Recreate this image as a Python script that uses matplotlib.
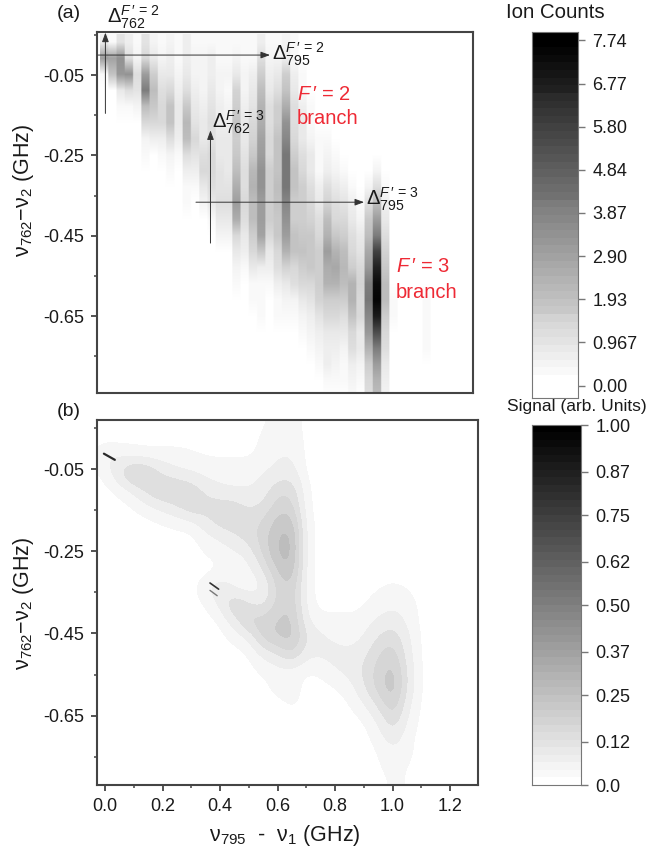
import numpy as np
import matplotlib
matplotlib.use("Agg")
import matplotlib.pyplot as plt
from matplotlib.colors import BoundaryNorm, ListedColormap
from matplotlib.ticker import FixedLocator

plt.rcParams['font.family'] = ['Liberation Sans', 'DejaVu Sans']
plt.rcParams['mathtext.fontset'] = 'custom'
plt.rcParams['mathtext.rm'] = 'Liberation Sans'
plt.rcParams['mathtext.it'] = 'Liberation Sans:italic'
plt.rcParams['mathtext.bf'] = 'Liberation Sans:bold'

W, H = 651, 858

# ---------- data ----------
y_ticks_major = [-0.05, -0.25, -0.45, -0.65]
y_ticks_minor = [0.05, -0.15, -0.35, -0.55, -0.75]
x_ticks_major = [0.0, 0.2, 0.4, 0.6, 0.8, 1.0, 1.2]
x_ticks_minor = [0.1, 0.3, 0.5, 0.7, 0.9, 1.1]
cbar_a_ticks = [0.00, 0.967, 1.93, 2.90, 3.87, 4.84, 5.80, 6.77, 7.74]
cbar_a_labels = ['0.00', '0.967', '1.93', '2.90', '3.87', '4.84', '5.80', '6.77', '7.74']
cbar_b_ticks = [0.0, 0.12, 0.25, 0.37, 0.50, 0.62, 0.75, 0.87, 1.00]
cbar_b_labels = ['0.0', '0.12', '0.25', '0.37', '0.50', '0.62', '0.75', '0.87', '1.00']

# panel (a): ion counts per laser scan column, rows from +0.03 GHz downward in 0.04 GHz steps
ion_columns = [
    [.5, 3.0, .2],
    [.3, 2.8, 1.8, .1],
    [.9, 3.4, 3.2, .7, .2],
    [.5, 1.0, 3.4, 1.1, .3],
    [.2, .4, 1.0, .9, .4, .1],
    [.9, 1.3, 3.0, 4.0, 2.0, 1.2, .4, .2],
    [.4, .8, 1.6, 2.1, 1.7, 1.2, .6, .1],
    [.2, .4, .7, 1.0, 1.3, 1.2, .6, .2],
    [.4, .5, .8, 1.2, 1.8, 1.8, 1.0, .4, .2],
    [.2, .3, .4, .6, .8, .8, .5, .2, .1],
    [.5, .6, .8, 1.1, 1.7, 2.2, 2.1, 1.0, .5, .3, .2],
    [.2, .4, .4, .5, .7, .9, 1.2, .9, .5, .2],
    [.2, .4, .4, .4, .6, .7, .8, 1.0, 1.3, .8, .4, .1],
    [.3, .6, .6, .7, .9, 1.1, .9, 1.2, 1.3, 1.0, .7, .3, .1],
    [.2, .3, .4, .4, .5, .6, .7, .7, .9, .9, 1.1, .7, .4, .1],
    [.2, .3, .4, .3, .4, .5, .7, .7, .8, .9, 1.1, .8, .4, .1],
    [.3, .4, .8, 1.4, 1.6, 1.8, 1.5, 1.7, 2.0, 2.5, 3.1, 2.6, 1.2, .7, .4, .2],
    [.2, .3, .4, .4, .5, .7, .7, .9, 1.1, 1.1, 1.3, 1.1, .8, .5, .2],
    [.2, .3, .5, .7, .9, 1.2, 1.4, 1.7, 2.2, 2.4, 2.1, 2.0, 1.6, 1.2, .7, .3, .2, .1],
    [.6, 1.1, 1.6, 2.1, 2.4, 2.5, 2.8, 3.1, 3.4, 3.3, 3.1, 3.1, 2.8, 1.7, .6, .3, .3, .2, .1, .1],
    [.2, .4, .6, .8, 1.0, 1.1, 1.3, 1.3, 1.5, 1.5, 1.5, 1.5, 1.2, .8, .5, .3, .1],
    [.2, .4, .7, 1.1, 1.5, 1.6, 1.9, 1.9, 1.9, 2.1, 1.9, 1.7, 1.7, 1.3, 1.0, .5, .3, .2],
    [.4, .5, 1.6, 1.9, 2.6, 3.3, 3.6, 4.1, 4.1, 4.1, 3.7, 3.3, 3.1, 2.4, 1.4, .8, .4, .3, .1],
    [.2, .3, .5, .7, 1.0, 1.1, 1.3, 1.6, 1.9, 1.9, 1.6, 1.6, 1.8, 1.8, 1.3, 1.0, .4, .3],
    [0, .1, .2, .3, .5, .7, .8, 1.1, 1.3, 1.5, 1.6, 1.6, 1.7, 1.8, 1.6, 1.3, .8, .4, .3, .1],
    [0, 0, 0, .1, .2, .3, .4, .7, .8, 1.0, 1.2, 1.4, 1.7, 1.7, 1.7, 1.3, .9, .5, .4, .3],
    [0, 0, 0, 0, 0, .1, .2, .3, .3, .6, .7, 1.0, 1.2, 1.5, 1.6, 1.6, 1.4, .9, .5, .4, .2],
    [0, 0, 0, 0, 0, 0, .3, .4, .6, 1.0, 1.4, 2.0, 2.4, 3.0, 2.6, 2.3, 1.6, 1.2, .8, .5, .5, .3],
    [0, 0, 0, 0, 0, 0, 0, .3, .4, .7, 1.0, 1.3, 1.7, 2.4, 2.7, 2.4, 1.6, 1.2, .8, .6, .4, .3],
    [0, 0, 0, 0, 0, 0, 0, .1, .3, .6, .9, 1.3, 1.6, 2.0, 2.2, 2.1, 1.5, 1.1, .8, .4, .3, .2],
    [0, 0, 0, 0, 0, 0, 0, 0, .1, .3, .5, .7, 1.0, 1.3, 1.6, 2.4, 2.4, 1.8, 1.3, 1.0, .5, .4, .2],
    [0, 0, 0, 0, 0, 0, 0, 0, 0, .1, .3, .4, .7, .9, 1.2, 1.4, 1.3, 1.3, .8, .7, .4, .3, .1],
    [0, 0, 0, 0, 0, 0, 0, 0, .1, .4, 1.0, 1.7, 2.1, 2.7, 3.2, 4.0, 4.2, 3.6, 3.2, 2.3, 1.5, 1.2, 1.0],
    [0, 0, 0, 0, 0, 0, 0, .1, .4, 1.0, 2.0, 3.0, 4.0, 5.8, 6.8, 7.5, 7.6, 7.0, 5.5, 4.0, 3.0, 2.3, 2.0],
    [0, 0, 0, 0, 0, 0, 0, 0, 0, .2, .5, .8, 1.0, 1.4, 1.7, 2.0, 2.0, 1.6, 1.3, 1.0, .8, .6, .4],
    [0, 0, 0, 0, 0, 0, 0, 0, 0, 0, 0, 0, 0, 0, .1, .1, .2, .2, .1, .1],
    [],
    [],
    [],
    [0, 0, 0, 0, 0, 0, 0, 0, 0, 0, 0, 0, 0, 0, 0, 0, .2, .3, .3, .2, .1],
    [0, 0, 0, 0, 0, 0, 0, 0, 0, 0, 0, 0, 0, 0, 0, 0, 0, .1, .1],
]
ion_col_step = 0.0287      # GHz
ion_row_top = 0.05
ion_row_step = 0.04

# panel (b): simulated signal (in percent); columns x=-0.05..1.05 step 0.05, rows y=0.06..-0.82 step -0.04
sig_rows = [
    [0, 0, 0, 0, 0, 0, 0, 0, 0, 0, 0, 0, 1, 2, 3],
    [0, 0, 0, 0, 0, 0, 0, 0, 0, 0, 0, 0, 2, 3, 4],
    [0, 6, 5, 4, 3, 3, 3, 2, 1, 1, 1, 1, 2, 5, 5],
    [0, 2, 10, 20, 17, 9, 6, 5, 4, 3, 3, 3, 5, 7, 8],
    [0, 0, 2, 6, 13, 17, 17, 14, 8, 6, 5, 5, 7, 14, 14, 1],
    [0, 0, 0, 1, 4, 7, 10, 16, 13, 13, 13, 9, 11, 18, 18, 1],
    [0, 0, 0, 0, 0, 1, 2, 3, 8, 13, 13, 13, 16, 23, 24, 2],
    [0, 0, 0, 0, 0, 0, 0, 0, 3, 5, 9, 12, 18, 26, 28, 2],
    [0, 0, 0, 0, 0, 0, 0, 0, 1, 2, 3, 6, 16, 26, 28, 2],
    [0, 0, 0, 0, 0, 0, 0, 0, 0, 1, 2, 3, 9, 21, 25, 2],
    [0, 0, 0, 0, 0, 0, 0, 0, 4, 10, 4, 2, 4, 17, 20, 2, 0, 0, 0, 0, 1, 2, 1],
    [0, 0, 0, 0, 0, 0, 0, 0, 1, 6, 17, 11, 8, 18, 20, 3, 0, 0, 0, 1, 3, 4, 3],
    [0, 0, 0, 0, 0, 0, 0, 0, 0, 1, 8, 18, 18, 21, 22, 5, 2, 3, 2, 3, 6, 8, 4],
    [0, 0, 0, 0, 0, 0, 0, 0, 0, 0, 2, 5, 18, 21, 23, 10, 6, 4, 3, 5, 11, 14, 6],
    [0, 0, 0, 0, 0, 0, 0, 0, 0, 0, 0, 1, 6, 10, 16, 6, 6, 7, 6, 9, 15, 19, 7],
    [0, 0, 0, 0, 0, 0, 0, 0, 0, 0, 0, 0, 2, 3, 3, 1, 2, 5, 7, 11, 18, 23, 9],
    [0, 0, 0, 0, 0, 0, 0, 0, 0, 0, 0, 0, 0, 3, 3, 0, 0, 1, 3, 10, 18, 25, 9],
    [0, 0, 0, 0, 0, 0, 0, 0, 0, 0, 0, 0, 0, 0, 2, 0, 0, 0, 1, 5, 12, 21, 6],
    [0, 0, 0, 0, 0, 0, 0, 0, 0, 0, 0, 0, 0, 0, 0, 0, 0, 0, 0, 1, 6, 15, 4],
    [0, 0, 0, 0, 0, 0, 0, 0, 0, 0, 0, 0, 0, 0, 0, 0, 0, 0, 0, 0, 3, 9, 2],
    [0, 0, 0, 0, 0, 0, 0, 0, 0, 0, 0, 0, 0, 0, 0, 0, 0, 0, 0, 0, 1, 4, 2],
    [0, 0, 0, 0, 0, 0, 0, 0, 0, 0, 0, 0, 0, 0, 0, 0, 0, 0, 0, 0, 1, 2, 1],
    [0, 0, 0, 0, 0, 0, 0, 0, 0, 0, 0, 0, 0, 0, 0, 0, 0, 0, 0, 0, 0, 2, 1],
]
# contour bands seen in (b): lower band edges and their grey levels
sig_bands = [-1, 0.012, 0.05, 0.10, 0.15, 0.20, 0.25, 0.30, 0.40, 0.60, 1.01]
sig_greys = ['#ffffff', '#f6f6f6', '#ededed', '#dfdfdf', '#d6d6d6', '#c9c9c9', '#bdbdbd',
             '#9a9a9a', '#666666', '#2a2a2a']
# narrow dark onsets of the two branches in (b)
tip1_x = [-0.004, 0.034]
tip1_y = [-0.012, -0.027]
tip2_x = [0.365, 0.395]
tip2_y = [-0.327, -0.342]
tip3_x = [0.365, 0.39]
tip3_y = [-0.345, -0.358]

LABEL_A = r'$\mathregular{\nu_{762}}$$-$$\mathregular{\nu_{2}}$ (GHz)'
XLABEL = r'$\mathregular{\nu_{795}}$  -  $\mathregular{\nu_{1}}$ (GHz)'
EDGE = '#444444'
RED = '#ee2a35'

# ---------- layout ----------
def axpx(l, t, r, b):
    return [l / W, 1 - b / H, (r - l) / W, (b - t) / H]

fig = plt.figure(figsize=(W / 100, H / 100), dpi=100, facecolor='white')
ax_a = fig.add_axes(axpx(97, 32, 473, 393))
ax_b = fig.add_axes(axpx(97, 420, 478, 785))
cax_a = fig.add_axes(axpx(532, 32, 578, 398))
cax_b = fig.add_axes(axpx(532, 425, 581, 785))

def txt(x, y, s, **kw):
    kw.setdefault('va', 'center')
    kw.setdefault('ha', 'left')
    kw.setdefault('color', '#1a1a1a')
    return fig.text(x / W, 1 - y / H, s, **kw)

cmap = plt.get_cmap('gray_r').resampled(48)
cmap_b = ListedColormap(sig_greys)
norm_b = BoundaryNorm(sig_bands, cmap_b.N)

# panel a image
n_rows = 23
ion = np.zeros((n_rows, len(ion_columns)))
for j, col in enumerate(ion_columns):
    ion[:len(col), j] = col
ion_fine = np.repeat(ion, 6, axis=1)
ext_a = [-ion_col_step / 2, -ion_col_step / 2 + ion_col_step * len(ion_columns),
         ion_row_top - ion_row_step * n_rows, ion_row_top]
ax_a.imshow(ion_fine, cmap=cmap, vmin=0, vmax=7.85, extent=ext_a, aspect='auto',
            interpolation='bilinear', origin='upper')
ax_a.set_xlim(-0.024, 1.283)
ax_a.set_ylim(-0.841, 0.057)
ax_a.set_xticks([])

# panel b image
sig = np.zeros((len(sig_rows), 28))
for i, row in enumerate(sig_rows):
    sig[i, :len(row)] = row
sig = sig / 100.0
ext_b = [-0.075, -0.075 + 0.05 * 28, 0.06 - 0.04 * 22.5, 0.08]
ax_b.imshow(sig, cmap=cmap_b, norm=norm_b, extent=ext_b, aspect='auto',
            interpolation='bicubic', origin='upper')
for tx, ty, c, lw in ((tip1_x, tip1_y, '#2a2a2a', 1.6),
                      (tip2_x, tip2_y, '#333333', 1.2),
                      (tip3_x, tip3_y, '#777777', 1.0)):
    ax_b.plot(tx, ty, color=c, lw=lw, solid_capstyle='round')
ax_b.set_xlim(-0.028, 1.297)
ax_b.set_ylim(-0.819, 0.07)
ax_b.xaxis.set_major_locator(FixedLocator(x_ticks_major))
ax_b.xaxis.set_minor_locator(FixedLocator(x_ticks_minor))
ax_b.set_xticklabels([f'{v:.1f}' for v in x_ticks_major])

for ax in (ax_a, ax_b):
    ax.yaxis.set_major_locator(FixedLocator(y_ticks_major))
    ax.yaxis.set_minor_locator(FixedLocator(y_ticks_minor))
    ax.set_yticklabels([f'{v:.2f}' for v in y_ticks_major])
    ax.tick_params(which='major', length=4.5, width=1.3, color=EDGE, labelsize=13,
                   labelcolor='#1a1a1a', pad=5)
    ax.tick_params(which='minor', length=2.5, width=1.1, color=EDGE)
    for s in ax.spines.values():
        s.set_linewidth(1.5)
        s.set_color(EDGE)

# colorbars
for cax, vmin, vmax, ticks, labels, vtop, vbot in (
    (cax_a, 0, 7.85, cbar_a_ticks, cbar_a_labels, 7.93, -0.28),
    (cax_b, 0, 1, cbar_b_ticks, cbar_b_labels, 1.0, 0.0),
):
    grad = np.linspace(vbot, vtop, 48)[::-1].reshape(-1, 1)
    cax.imshow(grad, cmap=cmap, vmin=vmin, vmax=vmax, aspect='auto',
               extent=[0, 1, vbot, vtop], interpolation='nearest')
    cax.set_xticks([])
    cax.yaxis.tick_right()
    cax.set_yticks(ticks)
    cax.set_yticklabels(labels)
    cax.tick_params(length=5, width=1.0, color='#777777', labelsize=13,
                    labelcolor='#1a1a1a', pad=5.5)
    for s in cax.spines.values():
        s.set_linewidth(0.8)
        s.set_color('#777777')

# arrows in panel a
def xa(px):
    return (px - 104) / 287.5
def ya(py):
    return -0.05 + (74.5 - py) / 403

def arrow(x0, y0, x1, y1):
    ax_a.annotate('', xy=(xa(x1), ya(y1)), xytext=(xa(x0), ya(y0)), annotation_clip=False,
                  arrowprops=dict(arrowstyle='-|>,head_length=0.55,head_width=0.2',
                                  color='#333333', lw=0.7, shrinkA=0, shrinkB=0))

arrow(105.5, 113, 105.5, 32)
arrow(98, 54.5, 270, 54.5)
arrow(210.5, 243, 210.5, 130)
arrow(196, 202, 364, 202)

# texts
def delta(sub, br):
    return r'$\Delta_{%s}^{\mathit{F}\,\prime\,=\,%s}$' % (sub, br)

txt(107, 17, delta('762', '2'), fontsize=14.5)
txt(272, 54, delta('795', '2'), fontsize=14.5)
txt(212, 122, delta('762', '3'), fontsize=14.5)
txt(366, 199, delta('795', '3'), fontsize=14.5)

txt(297, 94, r'$\mathit{F}\,\prime$ = 2', color=RED, fontsize=14.5)
txt(297, 119, 'branch', color=RED, fontsize=14.5)
txt(396, 266, r'$\mathit{F}\,\prime$ = 3', color=RED, fontsize=14.5)
txt(396, 292, 'branch', color=RED, fontsize=14.5)

txt(57, 13, '(a)', fontsize=14)
txt(57, 412, '(b)', fontsize=14)
txt(506, 12, 'Ion Counts', fontsize=14.7)
txt(507, 407, 'Signal (arb. Units)', fontsize=12.5)
txt(23, 190, LABEL_A, rotation=90, ha='center', fontsize=15.5)
txt(23, 603, LABEL_A, rotation=90, ha='center', fontsize=15.5)
txt(285, 835, XLABEL, ha='center', fontsize=15.5)

fig.savefig('out.png', dpi=100, facecolor='white')
